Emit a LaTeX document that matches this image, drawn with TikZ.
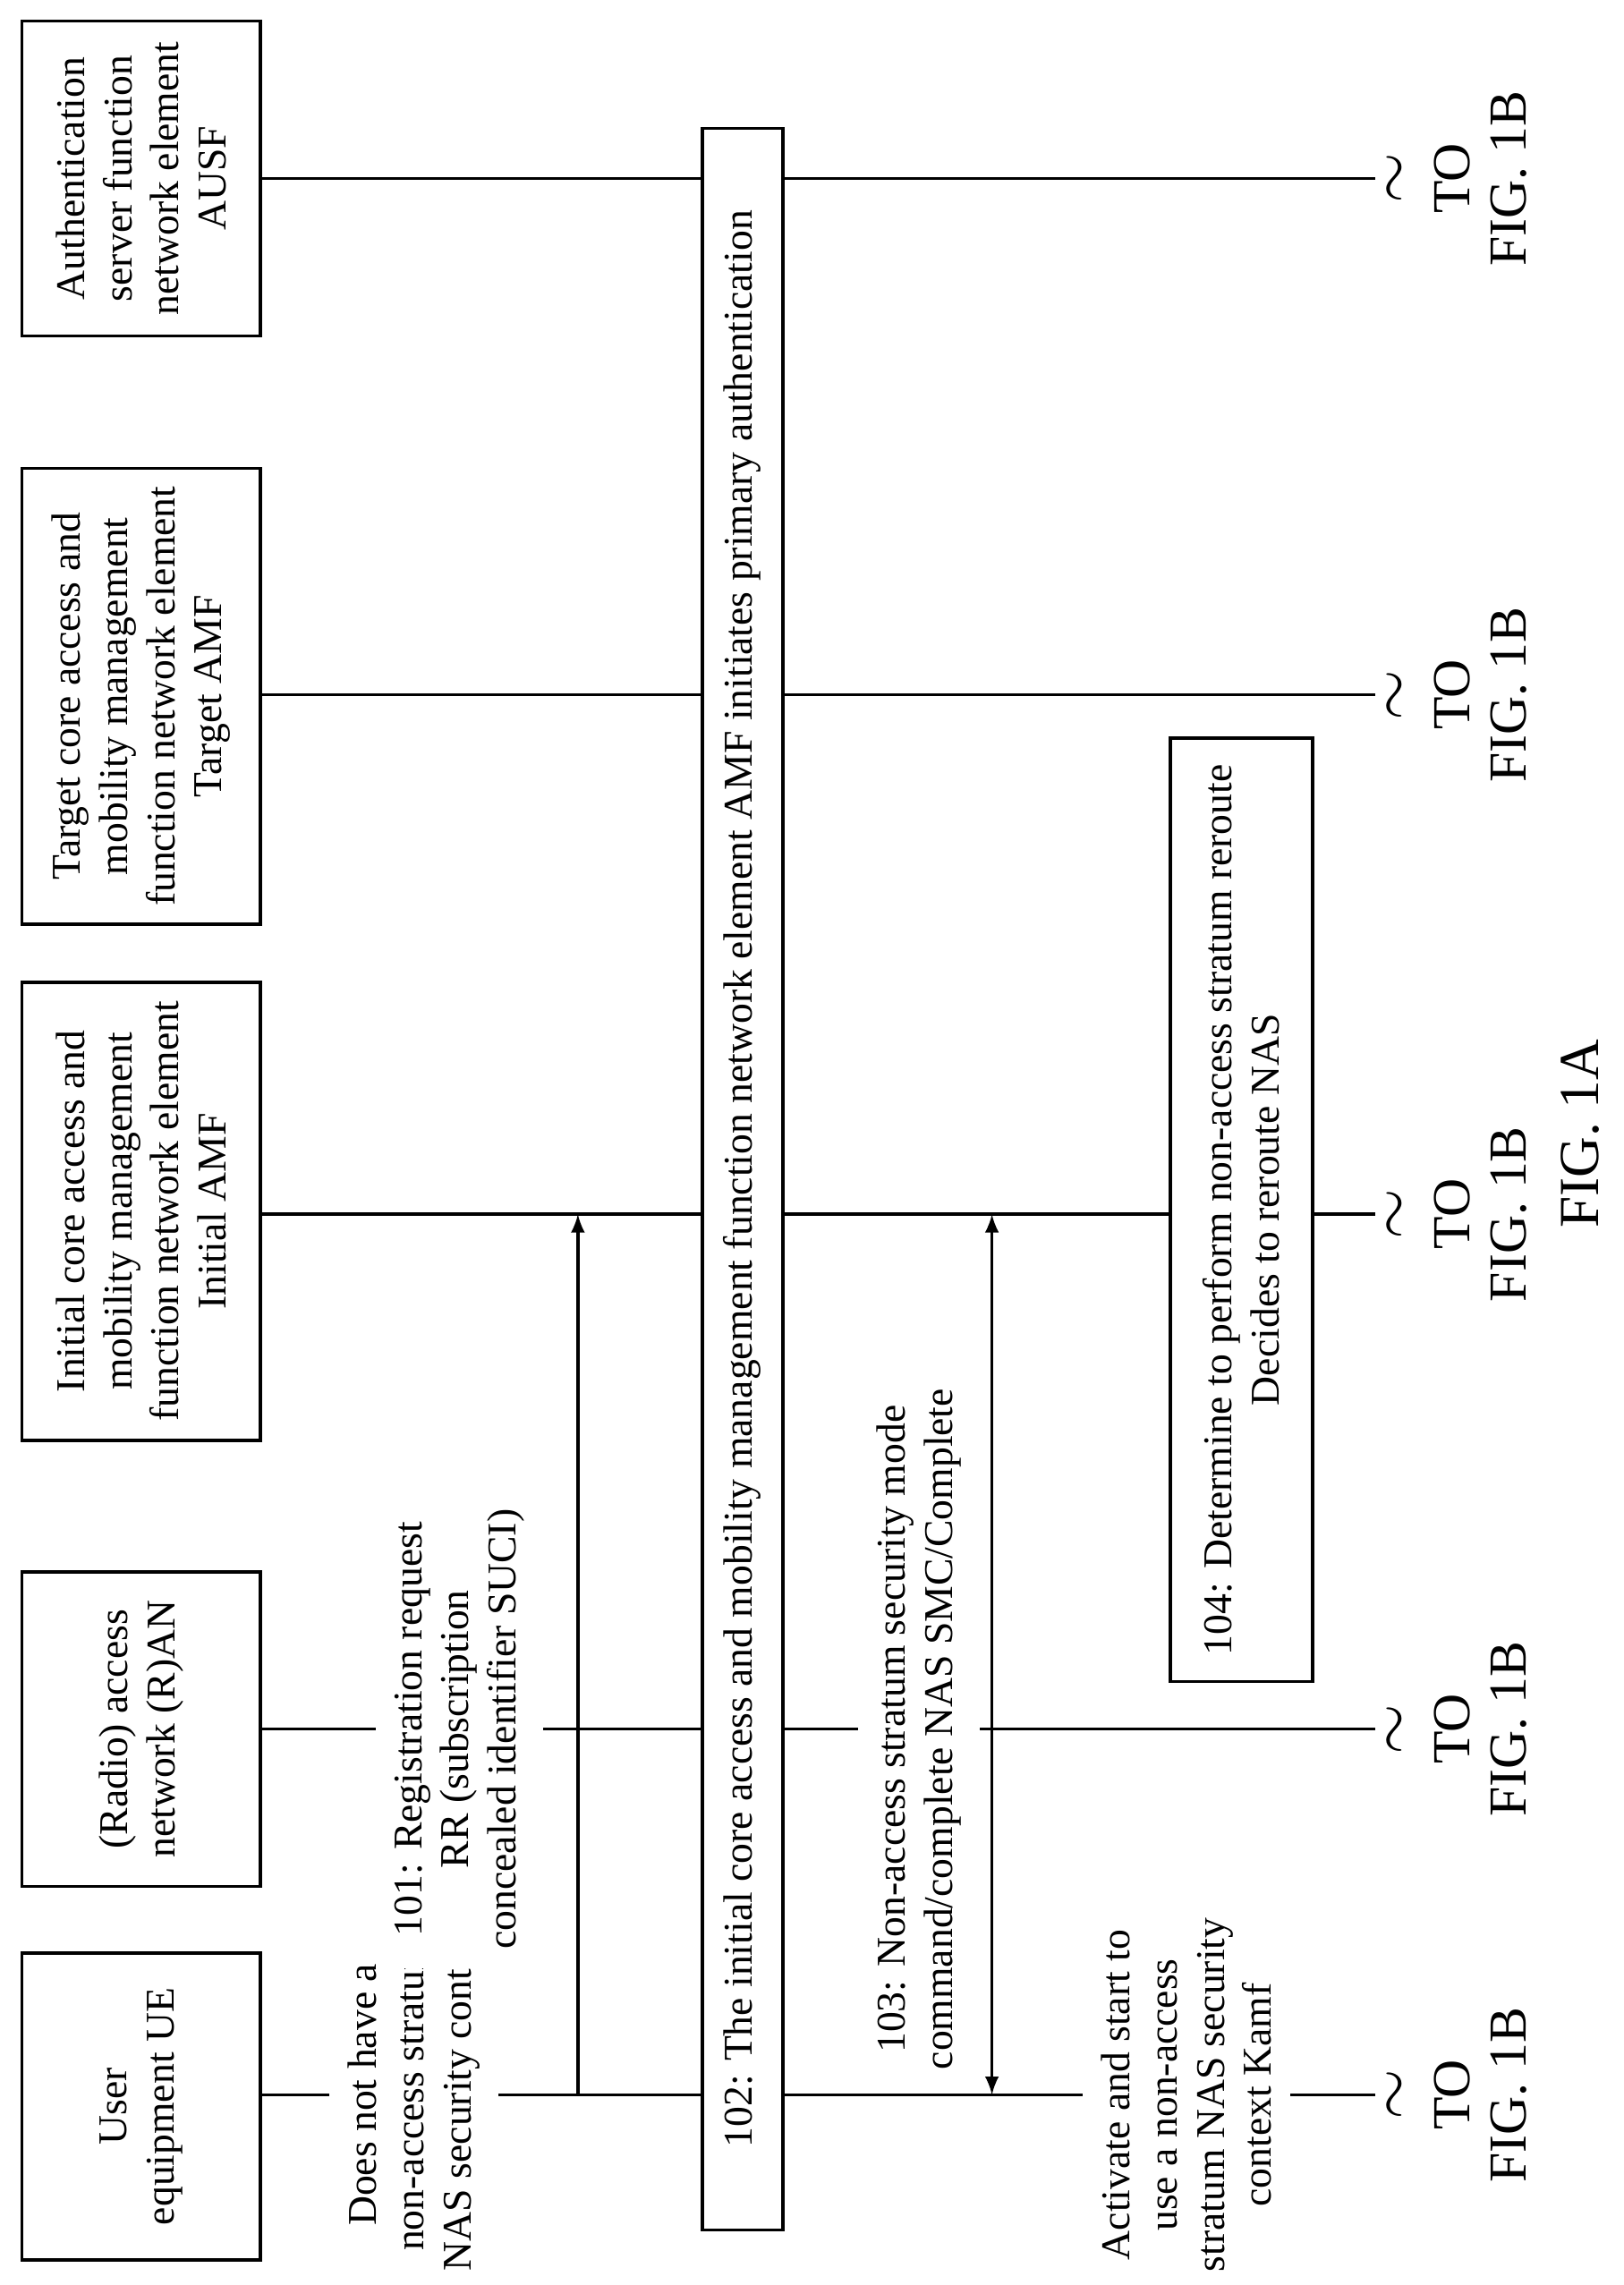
\documentclass[tikz,border=0pt]{standalone}
\usepackage{fontspec}
\setmainfont{Liberation Serif}
\begin{document}
\tikzset{
    entity/.style = {draw, line width=1pt, rotate=90, align=center, fill=white, minimum height=2.67cm},
    label/.style = {rotate=90, align=center, fill=white, inner sep=6pt},
    sig/.style = {line width=1pt},
    tilde/.style = {rotate=90, font=\fontsize{22}{22}\selectfont},
    tofig/.style = {rotate=90, align=center, font=\fontsize{17}{18}\selectfont}
}
\begin{tikzpicture}[x=0.01635cm, y=-0.01635cm, font=\fontsize{13}{15}\selectfont]
    \useasboundingbox (0,0) rectangle (1110,1562);
    % lifelines
    \foreach \name/\y in {ue/1432, ran/1182, iamf/830, tamf/475, ausf/122} {
        \coordinate (\name-end) at (940,\y);
        \draw [sig] (178,\y) -- (\name-end);
        \node [tilde] (\name-tilde) at (956,\y) {$\sim$};
        \node [tofig] (\name-to) at (1012,\y) {TO\\FIG. 1B};
    }
    % network elements
    \node [entity, minimum width=3.43cm] (ue) at (96.5,1440) {User\\equipment UE};
    \node [entity, minimum width=3.52cm] (ran) at (96.5,1182) {(Radio) access\\network (R)AN};
    \node [entity, minimum width=5.12cm] (iamf) at (96.5,828) {Initial core access and\\mobility management\\function network element\\Initial AMF};
    \node [entity, minimum width=5.10cm] (tamf) at (96.5,476) {Target core access and\\mobility management\\function network element\\Target AMF};
    \node [entity, minimum width=3.52cm] (ausf) at (96.5,122) {Authentication\\server function\\network element\\AUSF};
    % messages
    \coordinate (rr-a) at (395,1432);
    \coordinate (rr-b) at (395,830);
    \draw [sig, -latex] (rr-a) -- (rr-b);
    \coordinate (smc-a) at (678,830);
    \coordinate (smc-b) at (678,1432);
    \draw [sig, latex-latex] (smc-a) -- (smc-b);
    \node [label] (nosc) at (283,1432) {Does not have a\\non-access stratum\\NAS security context};
    \node [label] (rr) at (314,1182) {101: Registration request\\RR (subscription\\concealed identifier SUCI)};
    \node [label] (smc) at (628,1182) {103: Non-access stratum security mode\\command/complete NAS SMC/Complete};
    \node [label] (kamf) at (811,1432) {Activate and start to\\use a non-access\\stratum NAS security\\context Kamf};
    % steps
    \node [entity, minimum width=23.5cm, minimum height=0.9cm, inner sep=1pt] (auth) at (507.5,806) {102: The initial core access and mobility management function network element AMF initiates primary authentication};
    \node [entity, minimum width=10.55cm, minimum height=1.59cm] (reroute) at (848.5,827) {104: Determine to perform non-access stratum reroute\\Decides to reroute NAS};
    \node [rotate=90, font=\fontsize{18}{20}\selectfont] (fig) at (1080,775) {FIG. 1A};
\end{tikzpicture}
\end{document}
